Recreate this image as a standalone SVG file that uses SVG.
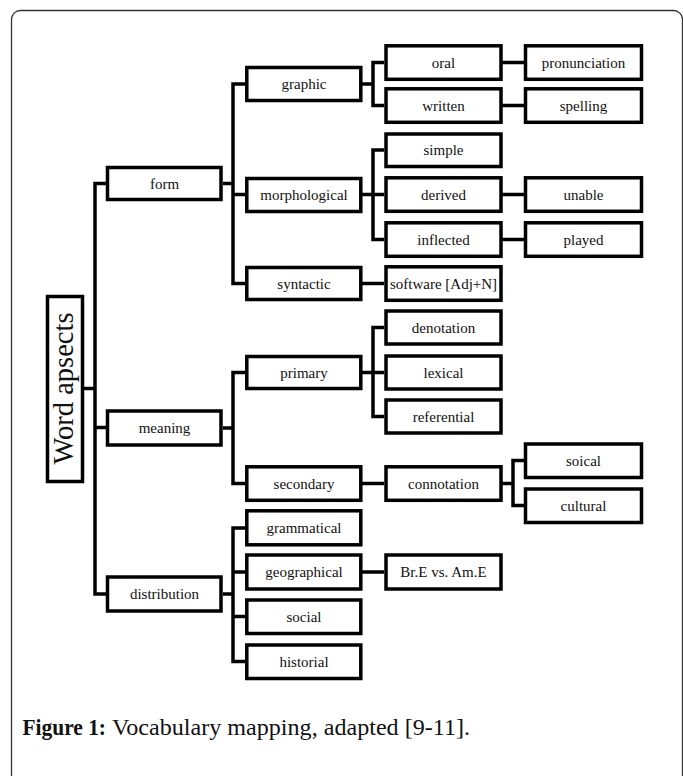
<svg xmlns="http://www.w3.org/2000/svg" width="683" height="776" viewBox="0 0 683 776">
<style>
.b{fill:#fff;stroke:#000;stroke-width:3.5}
.t{font-family:"Liberation Serif","Times New Roman",serif;font-size:15px;fill:#111;text-anchor:middle}
.c{fill:none;stroke:#000;stroke-width:3.5;stroke-linejoin:miter;stroke-linecap:butt}
.cap{font-family:"Liberation Serif","Times New Roman",serif;font-size:24px;fill:#111}
</style>
<rect x="11.5" y="10.5" width="671" height="800" rx="9" fill="#fff" stroke="#333" stroke-width="1.3"/>
<g id="connectors">
<path class="c" d="M106,183.5 H95 V594 H106 M95,427.5 H106 M84,388.5 H95"/>
<path class="c" d="M245,84 H233 V283.5 H245 M223,183.5 H233 M233,194.5 H245"/>
<path class="c" d="M384,62.5 H373 V105.5 H384 M362,84 H373"/>
<path class="c" d="M502,62.5 H524 M502,105.5 H524"/>
<path class="c" d="M384,150 H373 V239.5 H384 M362,194.5 H384"/>
<path class="c" d="M502,194.5 H524 M502,239.5 H524"/>
<path class="c" d="M362,283.5 H384"/>
<path class="c" d="M245,372.5 H233 V483.5 H245 M223,428 H233"/>
<path class="c" d="M384,327.5 H373 V416.5 H384 M362,372.5 H384"/>
<path class="c" d="M362,483.5 H384"/>
<path class="c" d="M524,460.5 H513 V505.5 H524 M502,483.5 H513"/>
<path class="c" d="M245,528 H233 V661.5 H245 M223,594 H233 M233,572 H245 M233,616.5 H245"/>
<path class="c" d="M362,572 H384"/>
</g>
<g id="word-aspects"><rect class="b" x="47.5" y="296.5" width="35" height="185"/><text x="73" y="388.5" transform="rotate(-90 73 388.5)" style="font-family:'Liberation Serif','Times New Roman',serif;font-size:28.5px;fill:#111;text-anchor:middle">Word apsects</text></g>
<g id="form"><rect class="b" x="107.5" y="167.5" width="113.5" height="32"/><text class="t" x="164.5" y="188.5">form</text></g>
<g id="meaning"><rect class="b" x="107.5" y="411" width="113.5" height="34"/><text class="t" x="164.5" y="433">meaning</text></g>
<g id="distribution"><rect class="b" x="107.5" y="577" width="113.5" height="34"/><text class="t" x="164.5" y="599">distribution</text></g>
<g id="graphic"><rect class="b" x="246.8" y="67.5" width="114" height="33"/><text class="t" x="304" y="89">graphic</text></g>
<g id="morphological"><rect class="b" x="246.8" y="178.5" width="114" height="33"/><text class="t" x="304" y="200">morphological</text></g>
<g id="syntactic"><rect class="b" x="246.8" y="267.5" width="114" height="32"/><text class="t" x="304" y="288.5">syntactic</text></g>
<g id="primary"><rect class="b" x="246.8" y="356.5" width="114" height="32"/><text class="t" x="304" y="377.5">primary</text></g>
<g id="secondary"><rect class="b" x="246.8" y="466.8" width="114" height="33.5"/><text class="t" x="304" y="488.5">secondary</text></g>
<g id="grammatical"><rect class="b" x="246.8" y="510.8" width="114" height="34"/><text class="t" x="304" y="533">grammatical</text></g>
<g id="geographical"><rect class="b" x="246.8" y="555" width="114" height="34"/><text class="t" x="304" y="577">geographical</text></g>
<g id="social"><rect class="b" x="246.8" y="600" width="114" height="33.5"/><text class="t" x="304" y="621.5">social</text></g>
<g id="historial"><rect class="b" x="246.8" y="645" width="114" height="33.5"/><text class="t" x="304" y="666.5">historial</text></g>
<g id="oral"><rect class="b" x="386" y="45.8" width="115" height="33.5"/><text class="t" x="443.5" y="67.5">oral</text></g>
<g id="written"><rect class="b" x="386" y="88.8" width="115" height="33.5"/><text class="t" x="443.5" y="110.5">written</text></g>
<g id="simple"><rect class="b" x="386" y="134" width="115" height="32.5"/><text class="t" x="443.5" y="155">simple</text></g>
<g id="derived"><rect class="b" x="386" y="177.8" width="115" height="33.5"/><text class="t" x="443.5" y="199.5">derived</text></g>
<g id="inflected"><rect class="b" x="386" y="222.8" width="115" height="33.5"/><text class="t" x="443.5" y="244.5">inflected</text></g>
<g id="software"><rect class="b" x="386" y="266.8" width="115" height="33.5"/><text class="t" x="443.5" y="288.5">software [Adj+N]</text></g>
<g id="denotation"><rect class="b" x="386" y="311" width="115" height="33"/><text class="t" x="443.5" y="332.5">denotation</text></g>
<g id="lexical"><rect class="b" x="386" y="356" width="115" height="33"/><text class="t" x="443.5" y="377.5">lexical</text></g>
<g id="referential"><rect class="b" x="386" y="400" width="115" height="33"/><text class="t" x="443.5" y="421.5">referential</text></g>
<g id="connotation"><rect class="b" x="386" y="466.8" width="115" height="33.5"/><text class="t" x="443.5" y="488.5">connotation</text></g>
<g id="bre-ame"><rect class="b" x="386" y="555" width="115" height="34"/><text class="t" x="443.5" y="577">Br.E vs. Am.E</text></g>
<g id="pronunciation"><rect class="b" x="525.5" y="45.8" width="116" height="33.5"/><text class="t" x="583.5" y="67.5">pronunciation</text></g>
<g id="spelling"><rect class="b" x="525.5" y="88.8" width="116" height="33.5"/><text class="t" x="583.5" y="110.5">spelling</text></g>
<g id="unable"><rect class="b" x="525.5" y="177.8" width="116" height="33.5"/><text class="t" x="583.5" y="199.5">unable</text></g>
<g id="played"><rect class="b" x="525.5" y="222.8" width="116" height="33.5"/><text class="t" x="583.5" y="244.5">played</text></g>
<g id="soical"><rect class="b" x="525.5" y="444" width="116" height="33.5"/><text class="t" x="583.5" y="465.5">soical</text></g>
<g id="cultural"><rect class="b" x="525.5" y="489" width="116" height="33.5"/><text class="t" x="583.5" y="510.5">cultural</text></g>
<text class="cap" x="22.5" y="735" font-weight="bold" textLength="83.5" lengthAdjust="spacingAndGlyphs">Figure 1:</text>
<text class="cap" x="112" y="735" textLength="358" lengthAdjust="spacingAndGlyphs">Vocabulary mapping, adapted [9-11].</text>
</svg>
